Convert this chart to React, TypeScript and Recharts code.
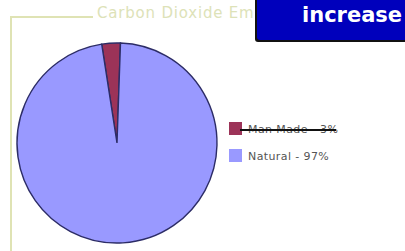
import { Legend, Pie, PieChart } from "recharts";

const labels = ["Man Made", "Natural"];
const shares = [3, 97];
const colors = ["#9c3358", "#9999ff"];
const title = "Carbon Dioxide Em";
const banner = "increase";

const data = labels.map((name, i) => ({
  name,
  value: shares[i],
  fill: colors[i],
}));

function LegendBox() {
  return (
    <div style={{ fontFamily: "'DejaVu Sans', Verdana, sans-serif", fontSize: 11, letterSpacing: 0.4, color: "#555" }}>
      {data.map((d, i) => (
        <div key={d.name} style={{ display: "flex", alignItems: "center", height: 13, marginBottom: 14 }}>
          <span style={{ width: 13, height: 13, background: d.fill, display: "inline-block", marginRight: 6, flexShrink: 0 }} />
          <span style={{ position: "relative", whiteSpace: "nowrap", top: 1 }}>
            {`${d.name} - ${d.value}%`}
            {i === 0 && (
              <span
                style={{
                  position: "absolute",
                  left: -8,
                  right: 2,
                  top: 6,
                  height: 2,
                  background: "#111",
                }}
              />
            )}
          </span>
        </div>
      ))}
    </div>
  );
}

export default function App() {
  return (
    <div style={{ position: "fixed", left: 0, top: 0, width: 405, height: 251, background: "#fff", overflow: "hidden" }}>
      {/* frame bracket */}
      <div style={{ position: "absolute", left: 10, top: 16, width: 83, height: 2, background: "#dfe3b4" }} />
      <div style={{ position: "absolute", left: 10, top: 16, width: 2, height: 240, background: "#dfe3b4" }} />
      <div
        style={{
          position: "absolute",
          left: 97,
          top: 4,
          fontFamily: "'DejaVu Sans', Verdana, sans-serif",
          fontSize: 15,
          letterSpacing: 0.8,
          color: "#dde2b8",
          whiteSpace: "nowrap",
        }}
      >
        {title}
      </div>
      <PieChart
        width={405}
        height={251}
        margin={{ top: 0, right: 0, bottom: 0, left: 0 }}
        style={{ position: "absolute", left: 0, top: 0 }}
      >
        <Pie
          data={data}
          dataKey="value"
          nameKey="name"
          cx={117}
          cy={143}
          outerRadius={100}
          startAngle={88}
          endAngle={448}
          stroke="#2c2c66"
          strokeWidth={1.4}
          isAnimationActive={false}
        />
        <Legend
          layout="vertical"
          content={() => <LegendBox />}
          wrapperStyle={{ position: "absolute", left: 229, top: 122, width: 170 }}
        />
      </PieChart>
      <div
        style={{
          position: "absolute",
          left: 257,
          top: -4,
          width: 160,
          height: 44,
          background: "#0000bc",
          boxShadow: "-2px 2px 0 #111",
          borderRadius: 3,
        }}
      />
      <div
        style={{
          position: "absolute",
          left: 302,
          top: 3,
          fontFamily: "'DejaVu Sans', Verdana, sans-serif",
          fontWeight: "bold",
          fontSize: 21,
          color: "#fff",
          whiteSpace: "nowrap",
        }}
      >
        {banner}
      </div>
    </div>
  );
}
